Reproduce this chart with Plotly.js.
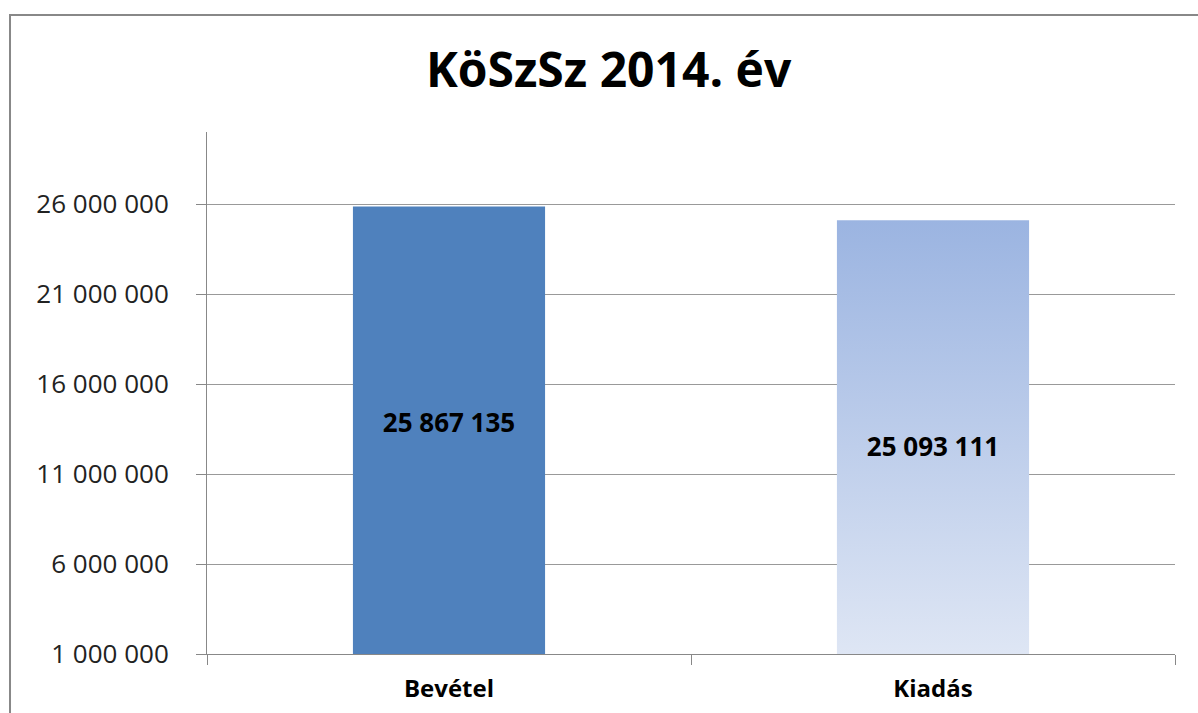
<!DOCTYPE html>
<html>
<head>
<meta charset="utf-8">
<script src="https://cdn.plot.ly/plotly-3.0.1.min.js"></script>
<style>html,body{margin:0;padding:0;background:#fff;}#chart{width:1198px;height:713px;}</style>
</head>
<body>
<div id="chart"></div>
<script>
const categories = ["Bevétel", "Kiadás"];
const values = [25867135, 25093111];
const tickValues = [1000000, 6000000, 11000000, 16000000, 21000000, 26000000];
const chartTitle = "KöSzSz 2014. év";
const barColors = ["#4F81BD", "#B9C9E8"];
const labelTemplates = ["%{y:,d}<br> ", "%{y:,d}"];

const FONT = "Open Sans, Noto Sans, DejaVu Sans, sans-serif";

const trace = {
  type: "bar",
  x: categories,
  y: values,
  marker: {color: barColors, line: {width: 0}},
  texttemplate: labelTemplates,
  textposition: "inside",
  insidetextanchor: "middle",
  textangle: 0,
  constraintext: "none",
  textfont: {family: FONT, size: 26, color: "#000", weight: "bold"},
  hoverinfo: "none"
};

const layout = {
  width: 1198, height: 713,
  margin: {l: 207, r: 23, t: 132, b: 59, pad: 0},
  paper_bgcolor: "#fff", plot_bgcolor: "#fff",
  separators: ", ",
  showlegend: false,
  bargap: 0.603,
  title: {text: chartTitle, font: {family: FONT, size: 48, color: "#000", weight: "bold"}, x: 0.508, xanchor: "center", xref: "container", y: 0.902, yanchor: "middle"},
  xaxis: {
    showgrid: false, showline: true, linecolor: "#888", linewidth: 1,
    ticks: "outside", tickson: "boundaries", ticklen: 10, tickcolor: "#888",
    tickfont: {family: FONT, size: 24, color: "#000", weight: "bold"},
    ticklabelstandoff: 13,
    zeroline: false
  },
  yaxis: {
    range: [1000000, 30000000], tickmode: "array", tickvals: tickValues,
    tickformat: ",d",
    showgrid: true, gridcolor: "#999", gridwidth: 1,
    showline: true, linecolor: "#888", linewidth: 1,
    ticks: "outside", ticklen: 10, tickcolor: "#888",
    tickfont: {family: FONT, size: 26, color: "#222"},
    ticklabelstandoff: 22,
    zeroline: false
  },
  shapes: [
    {type: "rect", xref: "paper", yref: "paper", x0: -0.2035, x1: 1.1, y0: -0.2, y1: 1.2239,
     line: {color: "#888", width: 2}, fillcolor: "rgba(0,0,0,0)", layer: "above"}
  ]
};

Plotly.newPlot("chart", [trace], layout, {displayModeBar: false, staticPlot: true}).then(function(gd){
  const svg = gd.querySelector("svg.main-svg");
  const ns = "http://www.w3.org/2000/svg";
  let defs = svg.querySelector("defs");
  if (!defs) { defs = document.createElementNS(ns, "defs"); svg.insertBefore(defs, svg.firstChild); }
  const grad = document.createElementNS(ns, "linearGradient");
  grad.setAttribute("id", "kiadasGrad");
  grad.setAttribute("x1", "0"); grad.setAttribute("y1", "0");
  grad.setAttribute("x2", "0"); grad.setAttribute("y2", "1");
  [["0", "#9BB4E1"], ["1", "#E1E8F5"]].forEach(function(s){
    const st = document.createElementNS(ns, "stop");
    st.setAttribute("offset", s[0]); st.setAttribute("stop-color", s[1]);
    grad.appendChild(st);
  });
  defs.appendChild(grad);
  const paths = gd.querySelectorAll(".barlayer .point path");
  if (paths.length > 1) { paths[1].style.fill = "url(#kiadasGrad)"; }
});
</script>
</body>
</html>
